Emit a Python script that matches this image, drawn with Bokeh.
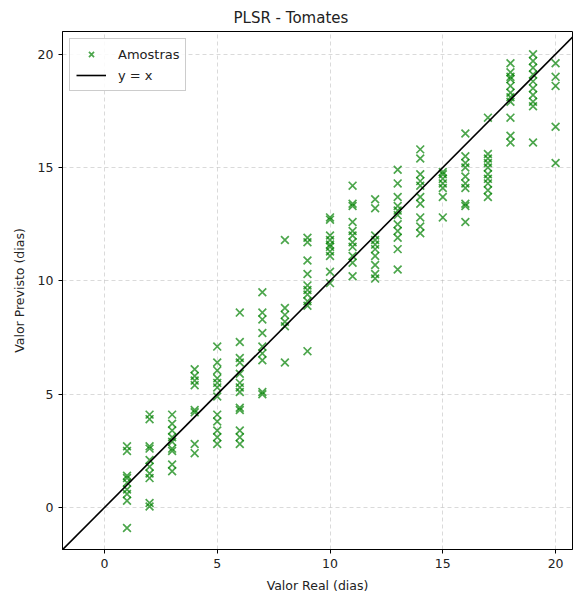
from bokeh.plotting import figure
from bokeh.models import Legend, LegendItem, FixedTicker
from bokeh.embed import file_html
from bokeh.resources import INLINE

# --- data ---
real_1 = [1]*9
prev_1 = [2.7, 2.5, 1.4, 1.3, 1.1, 0.8, 0.6, 0.3, -0.9]
real_2 = [2]*10
prev_2 = [4.1, 3.9, 2.7, 2.6, 2.1, 1.8, 1.5, 1.3, 0.2, 0.05]
real_3 = [3]*9
prev_3 = [4.1, 3.7, 3.4, 3.1, 2.9, 2.6, 2.5, 1.9, 1.6]
real_4 = [4]*8
prev_4 = [6.1, 5.8, 5.6, 5.4, 4.3, 4.2, 2.8, 2.4]
real_5 = [5]*12
prev_5 = [7.1, 6.4, 6.05, 5.7, 5.5, 5.3, 4.9, 4.1, 3.8, 3.4, 3.1, 2.8]
real_6 = [6]*13
prev_6 = [8.6, 7.3, 6.6, 6.4, 5.9, 5.5, 5.3, 5.1, 4.4, 4.3, 3.4, 3.1, 2.8]
real_7 = [7]*9
prev_7 = [9.5, 8.6, 8.3, 7.7, 7.1, 6.8, 6.5, 5.1, 5.0]
real_8 = [8]*6
prev_8 = [11.8, 8.8, 8.5, 8.2, 8.0, 6.4]
real_9 = [9]*10
prev_9 = [11.9, 11.7, 10.9, 10.3, 9.8, 9.6, 9.4, 9.1, 8.9, 6.9]
real_10 = [10]*10
prev_10 = [12.8, 12.7, 12.0, 11.8, 11.6, 11.5, 11.3, 11.1, 10.4, 9.9]
real_11 = [11]*11
prev_11 = [14.2, 13.4, 13.3, 12.6, 12.2, 12.0, 11.7, 11.5, 11.1, 10.8, 10.2]
real_12 = [12]*10
prev_12 = [13.6, 13.2, 12.0, 11.8, 11.6, 11.4, 11.1, 10.7, 10.3, 10.1]
real_13 = [13]*11
prev_13 = [14.9, 14.3, 13.7, 13.3, 13.1, 12.9, 12.5, 12.2, 11.9, 11.4, 10.5]
real_14 = [14]*10
prev_14 = [15.8, 15.4, 14.7, 14.4, 14.2, 13.7, 13.4, 12.8, 12.4, 12.1]
real_15 = [15]*7
prev_15 = [14.8, 14.7, 14.5, 14.3, 14.1, 13.7, 12.8]
real_16 = [16]*10
prev_16 = [16.5, 15.5, 15.2, 15.0, 14.6, 14.3, 14.1, 13.4, 13.3, 12.6]
real_17 = [17]*10
prev_17 = [17.2, 15.6, 15.4, 15.2, 15.0, 14.7, 14.5, 14.3, 14.0, 13.7]
real_18 = [18]*11
prev_18 = [19.6, 19.2, 19.0, 18.9, 18.6, 18.3, 18.1, 17.9, 17.2, 16.4, 16.1]
real_19 = [19]*10
prev_19 = [20.0, 19.7, 19.4, 19.1, 18.8, 18.5, 18.2, 17.9, 17.7, 16.1]
real_20 = [20]*5
prev_20 = [19.6, 19.0, 18.6, 16.8, 15.2]

x_ticks = [0, 5, 10, 15, 20]
y_ticks = [0, 5, 10, 15, 20]
x_lim = (-1.86, 20.75)
y_lim = (-1.85, 21.0)
ident = [-2.5, 21.5]

real = (real_1 + real_2 + real_3 + real_4 + real_5 + real_6 + real_7 + real_8 + real_9 +
        real_10 + real_11 + real_12 + real_13 + real_14 + real_15 + real_16 + real_17 +
        real_18 + real_19 + real_20)
prev = (prev_1 + prev_2 + prev_3 + prev_4 + prev_5 + prev_6 + prev_7 + prev_8 + prev_9 +
        prev_10 + prev_11 + prev_12 + prev_13 + prev_14 + prev_15 + prev_16 + prev_17 +
        prev_18 + prev_19 + prev_20)

FONT = "DejaVu Sans"

p = figure(width=573, height=599, x_range=x_lim, y_range=y_lim,
           output_backend="svg", toolbar_location=None,
           min_border_left=62, min_border_right=1, min_border_bottom=50, min_border_top=31)

p.title.text = "PLSR - Tomates"
p.title.text_font = FONT
p.title.text_font_size = "15px"
p.title.text_font_style = "normal"
p.title.align = "left"
p.title.offset = 171
p.title.text_color = "#222222"

sc = p.scatter(real, prev, marker="x", size=11, line_width=1.7,
               line_color="green", line_alpha=0.7)
ln = p.line(ident, ident, line_color="black", line_width=1.6)

legend = Legend(items=[LegendItem(label="Amostras", renderers=[sc]),
                       LegendItem(label="y = x", renderers=[ln])],
                location="top_left")
legend.label_text_font = FONT
legend.label_text_font_size = "13px"
legend.label_text_color = "#222222"
legend.glyph_width = 30
legend.glyph_height = 18
legend.label_standoff = 12
legend.padding = 6
legend.spacing = 3
legend.margin = 7
legend.border_line_color = "#cccccc"
legend.border_line_alpha = 1.0
legend.background_fill_alpha = 0.85
p.add_layout(legend)

for ax in (p.xaxis[0], p.yaxis[0]):
    ax.major_label_text_font = FONT
    ax.major_label_text_font_size = "12.5px"
    ax.major_label_text_color = "#222222"
    ax.axis_label_text_font = FONT
    ax.axis_label_text_font_size = "12.5px"
    ax.axis_label_text_font_style = "normal"
    ax.axis_label_text_color = "#222222"
    ax.minor_tick_line_color = None
    ax.major_tick_in = 0
    ax.major_tick_out = 4
    ax.axis_line_color = "black"
    ax.major_tick_line_color = "black"

p.xaxis.ticker = FixedTicker(ticks=x_ticks)
p.yaxis.ticker = FixedTicker(ticks=y_ticks)
p.xaxis.axis_label = "Valor Real (dias)"
p.yaxis.axis_label = "Valor Previsto (dias)"
p.xaxis.major_label_standoff = 5
p.yaxis.major_label_standoff = 5
p.xaxis.axis_label_standoff = 7
p.yaxis.axis_label_standoff = 8

p.outline_line_color = "black"
p.outline_line_width = 1
p.outline_line_alpha = 1.0

for g in (p.xgrid[0], p.ygrid[0]):
    g.grid_line_color = "#b0b0b0"
    g.grid_line_alpha = 0.6
    g.grid_line_dash = "4 3"
    g.grid_line_width = 0.8

open("out.html", "w").write(file_html(p, INLINE))
